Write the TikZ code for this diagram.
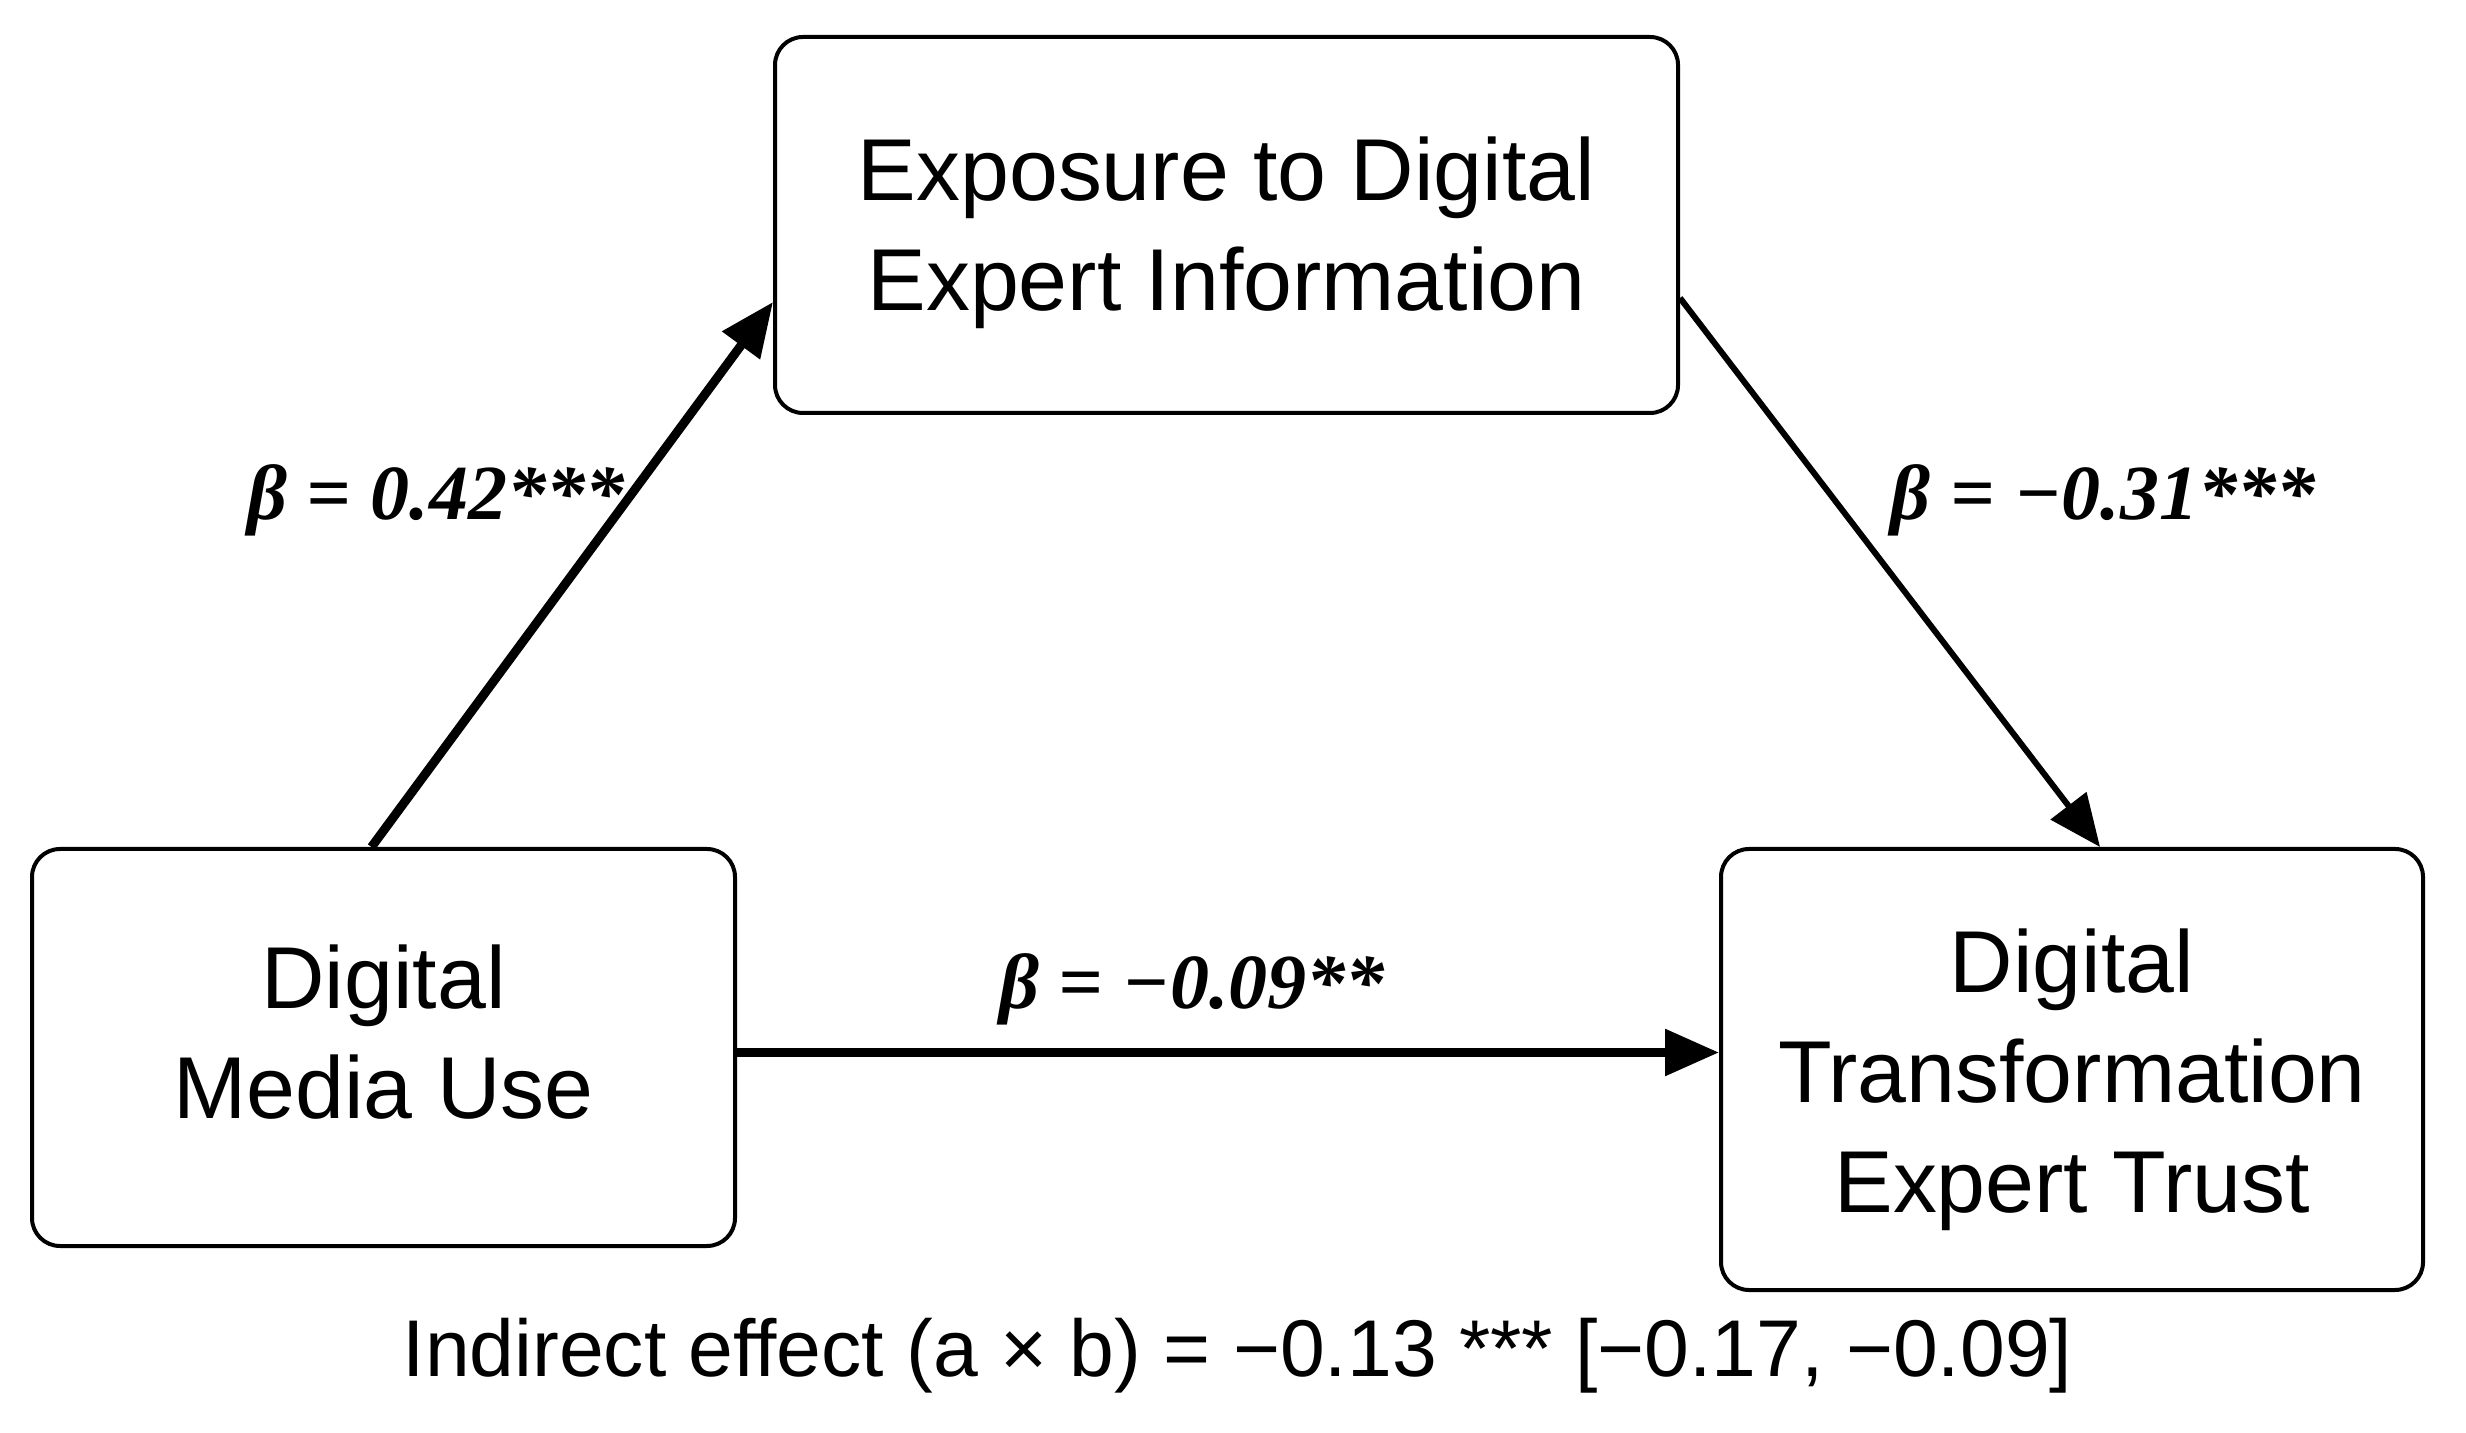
\documentclass[tikz,border=0pt]{standalone}
\usepackage{fontspec}
\setmainfont{Liberation Sans}
\newfontfamily\betafont{Liberation Serif}
\usetikzlibrary{arrows.meta}

\begin{document}
\begin{tikzpicture}[
  varbox/.style={draw, line width=0.04cm, rounded corners=0.28cm, align=center, inner sep=0pt, font=\fontsize{25}{31.3}\selectfont},
  coef/.style={anchor=base, font=\betafont\bfseries\itshape\fontsize{22.2}{26}\selectfont},
  thickpath/.style={line width=0.09cm, -{Triangle[length=0.54cm,width=0.45cm]}},
  thinpath/.style={line width=0.06cm, -{Triangle[length=0.52cm,width=0.44cm]}}
]

\useasboundingbox (0,0) rectangle (24.66,-14.33);

\coordinate (info-center) at (12.265,-2.25);
\coordinate (use-center) at (3.835,-10.475);
\coordinate (trust-center) at (20.72,-10.695);

\coordinate (a-label) at (4.36,-5.20);
\coordinate (b-label) at (21.03,-5.20);
\coordinate (c-label) at (11.92,-10.08);
\coordinate (indirect-label) at (12.375,-13.76);

\node [varbox, minimum width=9.03cm, minimum height=3.76cm] (info) at (info-center) {\rule{0pt}{0.8cm}Exposure to Digital\\Expert Information};
\node [varbox, minimum width=7.03cm, minimum height=3.97cm] (use) at (use-center) {Digital\\Media Use\rule[-0.32cm]{0pt}{0pt}};
\node [varbox, minimum width=7.02cm, minimum height=4.41cm] (trust) at (trust-center) {\rule{0pt}{0.85cm}Digital\\Transformation\\Expert Trust};

\node [coef] (a-coef) at (a-label) {β = 0.42***};
\node [coef] (b-coef) at (b-label) {β = −0.31***};
\node [coef] (c-coef) at (c-label) {β = −0.09**};
\node [anchor=base, font=\fontsize{22.9}{27}\selectfont] (indirect) at (indirect-label) {Indirect effect (a × b) = −0.13 *** [−0.17, −0.09]};

\coordinate (direct-start) at ([yshift=-0.05cm]use.east);

\draw [thickpath] ([xshift=-0.12cm]use.north) -- ([yshift=-0.77cm]info.west);
\draw [thinpath] ([yshift=-0.73cm]info.east) -- ([xshift=0.28cm]trust.north);
\draw [thickpath] (direct-start) -- (direct-start -| trust.west);


\end{tikzpicture}
\end{document}
